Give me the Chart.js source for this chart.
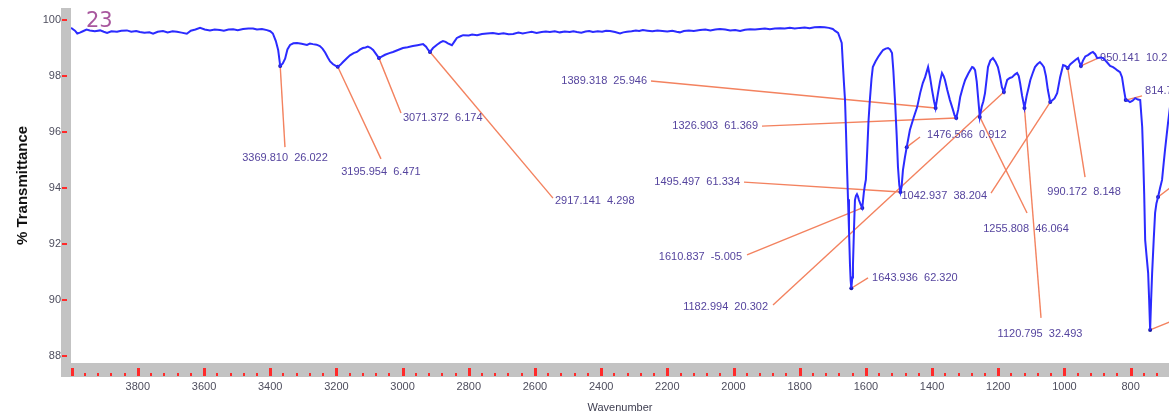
<!DOCTYPE html>
<html>
<head>
<meta charset="utf-8">
<style>
  html, body { margin: 0; padding: 0; background: #ffffff; overflow: hidden; }
  canvas { display: block; }
</style>
<script src="https://cdn.jsdelivr.net/npm/chart.js@4/dist/chart.umd.min.js"></script>
</head>
<body>
<canvas id="ir" width="1169" height="417"></canvas>
<script>
// Sample tag printed in the corner of the spectrum
const sampleName = '23';

// Axis tick labels
const xTickLabels = [3800, 3600, 3400, 3200, 3000, 2800, 2600, 2400, 2200, 2000, 1800, 1600, 1400, 1200, 1000, 800];
const yTickLabels = [100, 98, 96, 94, 92, 90, 88];

// IR spectrum: wavenumber (cm-1) and % transmittance
const wavenumbers = [
  4002, 3990, 3983, 3975, 3966, 3955, 3945, 3930, 3914, 3903, 3893, 3880, 3863, 3850, 3833, 3820,
  3805, 3794, 3780, 3765, 3754, 3740, 3724, 3710, 3695, 3682, 3668, 3652, 3640, 3626, 3612, 3598,
  3582, 3568, 3552, 3540, 3526, 3512, 3498, 3482, 3466, 3452, 3440, 3425, 3410, 3400, 3392, 3383,
  3376, 3369.810, 3362, 3355, 3348, 3340, 3330, 3319, 3305, 3289, 3280, 3271, 3260, 3250, 3242, 3234,
  3226, 3219, 3210, 3202, 3195.954, 3188, 3180, 3170, 3159, 3148, 3138, 3128, 3120, 3112, 3105, 3097,
  3089, 3080, 3071.372, 3062, 3053, 3040, 3029, 3014, 2999, 2985, 2969, 2955, 2938, 2929, 2923, 2917.141,
  2908, 2896, 2886, 2878, 2870, 2863, 2851, 2843, 2836, 2825, 2817, 2800, 2790, 2775, 2760, 2745,
  2727, 2710, 2695, 2680, 2666, 2650, 2637, 2624, 2610, 2595, 2580, 2567, 2555, 2540, 2525, 2510,
  2495, 2484, 2473, 2460, 2447, 2436, 2425, 2410, 2397, 2385, 2373, 2358, 2343, 2333, 2322, 2308,
  2295, 2285, 2274, 2260, 2245, 2230, 2215, 2200, 2185, 2172, 2162, 2150, 2135, 2120, 2101, 2085,
  2070, 2055, 2041, 2025, 2010, 1995, 1980, 1965, 1950, 1935, 1920, 1905, 1890, 1875, 1859, 1845,
  1830, 1815, 1799, 1785, 1770, 1755, 1739, 1725, 1712, 1700, 1693, 1684, 1678, 1673, 1669, 1666,
  1663, 1660, 1657, 1654, 1651, 1648, 1646, 1643.936, 1641, 1639, 1636, 1633, 1630, 1627, 1624, 1621,
  1616, 1610.837, 1606, 1603, 1600, 1596, 1592, 1588, 1583, 1579, 1571, 1563, 1555, 1548, 1540, 1533,
  1527, 1521, 1517, 1512, 1507, 1503, 1499, 1495.497, 1492, 1488, 1482, 1476.566, 1467, 1456, 1445, 1436,
  1428, 1421, 1412, 1406, 1400, 1394, 1389.318, 1382, 1376, 1370, 1365, 1361, 1354, 1346, 1337, 1332,
  1326.903, 1321, 1315, 1307, 1300, 1290, 1279, 1275, 1270, 1265, 1261, 1255.808, 1250, 1245, 1240, 1235,
  1231, 1224, 1216, 1208, 1201, 1195, 1189, 1182.994, 1178, 1173, 1165, 1158, 1150, 1143, 1138, 1134,
  1128, 1120.795, 1114, 1108, 1103, 1096, 1089, 1082, 1074, 1068, 1062, 1056, 1050, 1042.937, 1030, 1022,
  1017, 1013, 1008, 1004, 997, 990.172, 982, 974, 966, 959, 955, 950.141, 944, 937, 929, 921,
  914, 907, 901, 892, 883, 872, 862, 853, 845, 841, 832, 826, 820, 814.7, 808, 802,
  794, 786, 778, 771, 765, 762, 759, 756, 752, 747, 744, 741, 738, 735, 730, 726,
  722, 717, 711, 705, 700, 696, 691, 687, 680
];
const transmittance = [
  99.72, 99.62, 99.52, 99.55, 99.60, 99.66, 99.63, 99.60, 99.63, 99.58, 99.54, 99.60, 99.58, 99.62, 99.63, 99.58,
  99.61, 99.57, 99.55, 99.56, 99.51, 99.58, 99.61, 99.56, 99.60, 99.58, 99.55, 99.51, 99.62, 99.66, 99.72, 99.66,
  99.63, 99.66, 99.64, 99.62, 99.66, 99.67, 99.64, 99.68, 99.70, 99.70, 99.66, 99.68, 99.64, 99.60, 99.52, 99.25,
  98.93, 98.36, 98.45, 98.62, 98.95, 99.11, 99.17, 99.18, 99.15, 99.11, 99.16, 99.14, 99.12, 99.07, 98.98, 98.84,
  98.66, 98.52, 98.42, 98.36, 98.33, 98.40, 98.50, 98.62, 98.74, 98.82, 98.86, 98.95, 99.00, 99.02, 99.05, 99.01,
  98.93, 98.78, 98.64, 98.70, 98.76, 98.82, 98.86, 98.93, 99.00, 99.03, 99.07, 99.10, 99.14, 99.05, 98.94, 98.86,
  99.00, 99.12, 99.20, 99.25, 99.22, 99.17, 99.10, 99.24, 99.36, 99.42, 99.46, 99.45, 99.48, 99.46, 99.50, 99.52,
  99.54, 99.50, 99.53, 99.49, 99.50, 99.55, 99.52, 99.55, 99.58, 99.54, 99.57, 99.59, 99.57, 99.60, 99.56, 99.59,
  99.57, 99.60, 99.57, 99.55, 99.59, 99.61, 99.57, 99.60, 99.58, 99.62, 99.61, 99.57, 99.52, 99.56, 99.58, 99.60,
  99.63, 99.61, 99.64, 99.62, 99.60, 99.63, 99.61, 99.59, 99.62, 99.58, 99.56, 99.61, 99.63, 99.61, 99.64, 99.66,
  99.63, 99.66, 99.68, 99.66, 99.63, 99.64, 99.61, 99.65, 99.67, 99.66, 99.68, 99.70, 99.67, 99.70, 99.71, 99.70,
  99.72, 99.70, 99.72, 99.73, 99.71, 99.74, 99.75, 99.74, 99.72, 99.68, 99.61, 99.54, 99.35, 99.18, 98.32, 97.70,
  97.14, 96.00, 94.75, 93.60, 92.50, 91.25, 90.70, 90.42, 90.80, 91.25, 92.50, 93.57, 93.72, 93.78, 93.70, 93.57,
  93.42, 93.29, 93.85, 94.10, 94.30, 95.30, 96.40, 97.14, 97.90, 98.32, 98.52, 98.68, 98.82, 98.93, 98.98, 99.00,
  98.95, 98.82, 98.20, 97.14, 95.90, 94.75, 94.10, 93.86, 94.05, 94.64, 95.10, 95.46, 96.07, 96.50, 96.89, 97.39,
  97.75, 97.96, 98.32, 97.95, 97.50, 97.10, 96.86, 97.39, 97.80, 98.11, 98.00, 97.86, 97.50, 97.14, 96.80, 96.60,
  96.50, 96.80, 97.25, 97.60, 97.86, 98.10, 98.32, 98.30, 98.21, 97.80, 97.25, 96.54, 96.90, 97.10, 97.39, 97.90,
  98.32, 98.55, 98.64, 98.50, 98.32, 98.00, 97.60, 97.43, 97.65, 97.86, 97.93, 97.96, 98.05, 98.11, 98.00, 97.75,
  97.30, 96.86, 97.30, 97.60, 97.86, 98.10, 98.32, 98.42, 98.50, 98.42, 98.32, 98.00, 97.50, 97.07, 97.20, 97.39,
  97.70, 97.96, 98.20, 98.39, 98.36, 98.29, 98.42, 98.50, 98.58, 98.64, 98.50, 98.36, 98.55, 98.70, 98.75, 98.82,
  98.86, 98.78, 98.64, 98.66, 98.64, 98.50, 98.36, 98.32, 98.25, 98.21, 98.14, 97.96, 97.50, 97.14, 97.12, 97.07,
  97.12, 97.21, 97.16, 97.14, 96.18, 95.11, 93.80, 92.14, 91.60, 90.96, 90.00, 88.93, 90.00, 90.96, 92.20, 93.11,
  93.45, 93.68, 94.00, 94.29, 94.90, 95.36, 95.90, 96.32, 97.00
];

// Picked peaks: position (cm-1) and the value printed beside it
const peakWavenumbers = [3369.810, 3195.954, 3071.372, 2917.141, 1389.318, 1326.903, 1476.566, 1495.497,
  1042.937, 1610.837, 1643.936, 1182.994, 1255.808, 1120.795, 990.172, 950.141, 814.7, 741, 717];
const peakValues = ['26.022', '6.471', '6.174', '4.298', '25.946', '61.369', '0.912', '61.334',
  '38.204', '-5.005', '62.320', '20.302', '46.064', '32.493', '8.148', '10.2', '', null, null];

// Where each peak's leader line ends (axis units) and how its text sits there
const calloutLayout = [
  { wn: 3355.4, t: 95.46, align: 'center', dx: 0,  dy: 11 },
  { wn: 3065.3, t: 95.04, align: 'center', dx: 0,  dy: 13 },
  { wn: 3004.8, t: 96.68, align: 'left',   dx: 2,  dy: 5 },
  { wn: 2545.5, t: 93.64, align: 'left',   dx: 2,  dy: 3 },
  { wn: 2249.3, t: 97.82, align: 'right',  dx: -4, dy: 0 },
  { wn: 1913.9, t: 96.21, align: 'right',  dx: -4, dy: 0 },
  { wn: 1436.4, t: 95.82, align: 'left',   dx: 7,  dy: -2 },
  { wn: 1968.3, t: 94.21, align: 'right',  dx: -4, dy: 0 },
  { wn: 1221.8, t: 93.82, align: 'right',  dx: -4, dy: 3 },
  { wn: 1959.2, t: 91.61, align: 'right',  dx: -5, dy: 2 },
  { wn: 1593.5, t: 90.79, align: 'left',   dx: 4,  dy: 0 },
  { wn: 1880.6, t: 89.82, align: 'right',  dx: -5, dy: 2 },
  { wn: 1113.0, t: 93.11, align: 'center', dx: -1, dy: 16 },
  { wn: 1070.7, t: 89.36, align: 'center', dx: -1, dy: 16 },
  { wn: 937.7,  t: 94.39, align: 'center', dx: -1, dy: 15 },
  { wn: 898.4,  t: 98.64, align: 'left',   dx: 2,  dy: 0 },
  { wn: 765.5,  t: 97.29, align: 'left',   dx: 3,  dy: -5 },
  { wn: 665.8,  t: 89.29, align: 'left',   dx: 3,  dy: 0 },
  { wn: 665.8,  t: 94.14, align: 'left',   dx: 3,  dy: 0 }
];

const spectrum = wavenumbers.map((w, i) => ({ x: w, y: transmittance[i] }));
const peakPoints = peakWavenumbers.map(w => {
  const i = wavenumbers.indexOf(w);
  return { x: w, y: transmittance[i] };
});

const LABEL_FONT = '11px "Liberation Sans", Arial, sans-serif';
const FRAME_GRAY = '#c3c3c3';
const TICK_RED = '#ff2a2a';

// Gray axis rails with red tick marks, drawn underneath everything
const axisFrame = {
  id: 'axisFrame',
  beforeDraw(chart) {
    const { ctx, chartArea: a, scales: { x, y } } = chart;
    ctx.save();
    ctx.fillStyle = FRAME_GRAY;
    ctx.fillRect(a.left - 10, a.top, 10, a.bottom - a.top + 14);
    ctx.fillRect(a.left - 10, a.bottom, a.right - a.left + 10, 14);
    ctx.fillStyle = TICK_RED;
    for (let w = 4000; w >= x.min; w -= 40) {
      const px = Math.round(x.getPixelForValue(w));
      if (px > a.right) continue;
      if (w % 200 === 0) ctx.fillRect(px - 1, a.bottom + 5, 3, 8);
      else ctx.fillRect(px - 1, a.bottom + 10, 2, 3);
    }
    yTickLabels.forEach(v => {
      const py = Math.round(y.getPixelForValue(v));
      ctx.fillRect(a.left - 9, py - 1, 5, 2);
    });
    ctx.restore();
  }
};

// Peak leader lines and their labels, plus the sample tag
const callouts = {
  id: 'callouts',
  beforeDatasetsDraw(chart) {
    const { ctx, chartArea: a, scales: { x, y } } = chart;
    ctx.save();
    ctx.strokeStyle = '#f3825f';
    ctx.lineWidth = 1.4;
    peakPoints.forEach((p, i) => {
      const c = calloutLayout[i];
      ctx.beginPath();
      ctx.moveTo(x.getPixelForValue(p.x), y.getPixelForValue(p.y));
      ctx.lineTo(x.getPixelForValue(c.wn), y.getPixelForValue(c.t));
      ctx.stroke();
    });
    ctx.font = LABEL_FONT;
    ctx.fillStyle = '#55449e';
    ctx.textBaseline = 'middle';
    peakPoints.forEach((p, i) => {
      const v = peakValues[i];
      if (v === null) return;
      const c = calloutLayout[i];
      ctx.textAlign = c.align;
      const text = peakWavenumbers[i].toFixed(3) + '  ' + v;
      ctx.fillText(text, x.getPixelForValue(c.wn) + c.dx, y.getPixelForValue(c.t) + c.dy);
    });
    ctx.font = '21px "DejaVu Sans", sans-serif';
    ctx.fillStyle = '#a8579e';
    ctx.textAlign = 'left';
    ctx.fillText(sampleName, a.left + 15, a.top + 14);
    ctx.restore();
  }
};

new Chart(document.getElementById('ir'), {
  type: 'line',
  data: {
    datasets: [
      {
        data: spectrum,
        borderColor: '#2b2bff',
        borderWidth: 2,
        pointRadius: 0,
        tension: 0,
        fill: false
      },
      {
        data: peakPoints,
        showLine: false,
        pointRadius: 2,
        pointBackgroundColor: '#1c1ca8',
        pointBorderWidth: 0
      }
    ]
  },
  options: {
    responsive: false,
    animation: false,
    devicePixelRatio: 1,
    events: [],
    layout: { autoPadding: false, padding: { top: 8, right: 0, left: 0, bottom: 0 } },
    plugins: { legend: { display: false }, tooltip: { enabled: false } },
    scales: {
      x: {
        type: 'linear',
        reverse: true,
        min: 684,
        max: 4002,
        grid: { display: false, drawTicks: false },
        border: { display: false },
        afterBuildTicks: s => { s.ticks = xTickLabels.map(v => ({ value: v })); },
        afterFit: s => { s.height = 54; s.paddingLeft = 0; s.paddingRight = 0; },
        ticks: {
          autoSkip: false,
          maxRotation: 0,
          padding: 17,
          color: '#4e4e5e',
          font: { family: '"Liberation Sans", Arial, sans-serif', size: 11 },
          callback: v => String(v)
        },
        title: {
          display: true,
          text: 'Wavenumber',
          color: '#3e3e50',
          padding: { top: 0, bottom: 2 },
          font: { family: '"Liberation Sans", Arial, sans-serif', size: 11 }
        }
      },
      y: {
        type: 'linear',
        min: 87.75,
        max: 100.43,
        grid: { display: false, drawTicks: false },
        border: { display: false },
        afterBuildTicks: s => { s.ticks = yTickLabels.map(v => ({ value: v })); },
        afterFit: s => { s.width = 71; s.paddingTop = 0; s.paddingBottom = 0; },
        ticks: {
          autoSkip: false,
          padding: 10,
          color: '#4e4e5e',
          font: { family: '"Liberation Sans", Arial, sans-serif', size: 11 },
          callback: v => String(v)
        },
        title: {
          display: true,
          text: '% Transmittance',
          color: '#111111',
          padding: { top: 14, bottom: 0 },
          font: { family: '"Liberation Sans", Arial, sans-serif', size: 15, weight: 'bold' }
        }
      }
    }
  },
  plugins: [axisFrame, callouts]
});
</script>
</body>
</html>
